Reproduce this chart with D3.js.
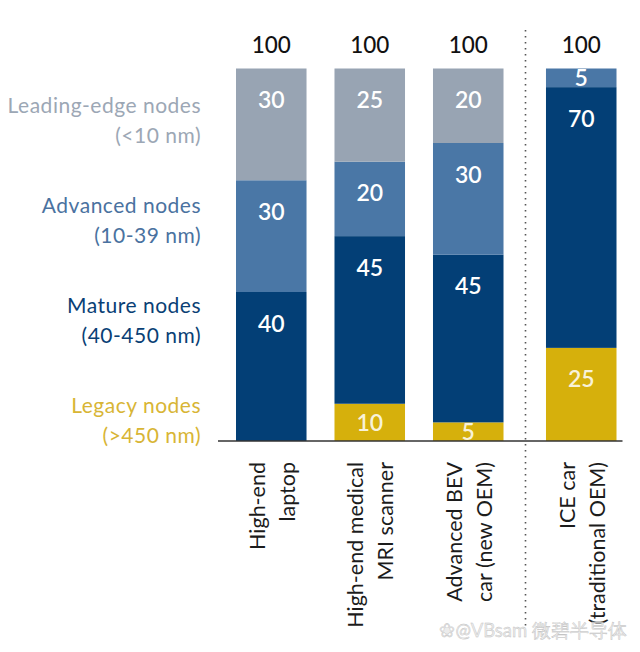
<!DOCTYPE html>
<html>
<head>
<meta charset="utf-8">
<script src="https://cdn.jsdelivr.net/npm/d3@7"></script>
<style>
	html, body { margin: 0; padding: 0; background: #fff; }
	svg { display: block; }
	text { font-family: Lato, "Open Sans", sans-serif; }
</style>
</head>
<body>
<svg id="chart" width="640" height="652"></svg>
<script>
//stacked share of chip nodes per product, stacked from the baseline up
var categories = ["laptop", "mri", "bev", "ice"];
var categoryLabels = [
	["High-end", "laptop"],
	["High-end medical", "MRI scanner"],
	["Advanced BEV", "car (new OEM)"],
	["ICE car", "(traditional OEM)"]
];
var totals = [100, 100, 100, 100];

var nodeKeys = ["legacy", "mature", "advanced", "leading"];
var legacy = [0, 10, 5, 25];
var mature = [40, 45, 45, 70];
var advanced = [30, 20, 30, 5];
var leading = [30, 25, 20, 0];

var nodeNames = {
	"legacy" : ["Legacy nodes", "(>450 nm)"],
	"mature" : ["Mature nodes", "(40-450 nm)"],
	"advanced" : ["Advanced nodes", "(10-39 nm)"],
	"leading" : ["Leading-edge nodes", "(<10 nm)"]
};
var nodeColors = {
	"legacy" : "#d6b00c",
	"mature" : "#033f76",
	"advanced" : "#4a77a6",
	"leading" : "#98a4b3"
};
var legendColors = {
	"legacy" : "#d8b535",
	"mature" : "#0a3f75",
	"advanced" : "#4a72a0",
	"leading" : "#9ca7b5"
};

var svg = d3.select("#chart");
var baseline = 441,
    top100 = 68.5;

var y = d3.scaleLinear().domain([0, 100]).range([baseline, top100]);

//the last bar sits a bit further right, behind the dotted divider
var x = d3.scaleBand().domain(categories).range([236, 602]).paddingInner(0.284).paddingOuter(0);
var barX = function(key) {
	return x(key) + (key === "ice" ? 14.5 : 0);
};

var series = { "legacy" : legacy, "mature" : mature, "advanced" : advanced, "leading" : leading };
var rows = categories.map(function(key, i) {
	var row = { key : key };
	nodeKeys.forEach(function(node) {
		row[node] = series[node][i];
	});
	return row;
});
var stacked = d3.stack().keys(nodeKeys)(rows);

//bars
var layers = svg.selectAll("g.layer").data(stacked).enter().append("g").attr("class", "layer");

layers.selectAll("rect").data(function(layer) {
	return layer.filter(function(d) { return d[1] > d[0]; });
}).enter().append("rect")
	.attr("x", function(d) { return barX(d.data.key); })
	.attr("y", function(d) { return y(d[1]); })
	.attr("width", x.bandwidth())
	.attr("height", function(d) { return y(d[0]) - y(d[1]); })
	.attr("fill", function() { return nodeColors[d3.select(this.parentNode).datum().key]; });

//value labels hang from the top of the segment, small segments get centered
layers.selectAll("text").data(function(layer) {
	return layer.filter(function(d) { return d[1] > d[0]; });
}).enter().append("text")
	.attr("x", function(d) { return barX(d.data.key) + x.bandwidth() / 2; })
	.attr("y", function(d) {
		var h = y(d[0]) - y(d[1]);
		return y(d[1]) + Math.min(31, h / 2) + 8.5;
	})
	.attr("text-anchor", "middle")
	.attr("font-size", 23)
	.attr("font-weight", 600)
	.attr("fill", "#fff")
	.attr("fill-opacity", function() { return d3.select(this.parentNode).datum().key === "legacy" ? 0.85 : 1; })
	.text(function(d) { return d[1] - d[0]; });

//totals
svg.selectAll("text.total").data(totals).enter().append("text")
	.attr("class", "total")
	.attr("x", function(d, i) { return barX(categories[i]) + x.bandwidth() / 2; })
	.attr("y", 52.5)
	.attr("text-anchor", "middle")
	.attr("font-size", 22.5)
	.attr("font-weight", 500)
	.attr("fill", "#111")
	.text(function(d) { return d; });

//baseline
svg.append("line")
	.attr("x1", 218).attr("x2", 622.5)
	.attr("y1", y(0)).attr("y2", y(0))
	.attr("stroke", "#333")
	.attr("stroke-width", 1.3);

//divider
svg.append("line")
	.attr("x1", 525.5).attr("x2", 525.5)
	.attr("y1", 30).attr("y2", 627)
	.attr("stroke", "#555")
	.attr("stroke-width", 1.6)
	.attr("stroke-dasharray", "1.6 4.4");

//legend on the left, one block per node
var legendY = d3.scaleOrdinal().domain(nodeKeys).range([413, 313, 213, 113]);

nodeKeys.forEach(function(node) {
	var label = svg.append("text")
		.attr("text-anchor", "end")
		.attr("font-size", 21)
		.attr("letter-spacing", 0.5)
		.attr("fill", legendColors[node]);
	nodeNames[node].forEach(function(line, i) {
		label.append("tspan")
			.attr("x", 201)
			.attr("y", legendY(node) + i * 30)
			.text(line);
	});
});

//rotated category labels
categories.forEach(function(key, i) {
	var cx = barX(key) + x.bandwidth() / 2;
	categoryLabels[i].forEach(function(line, j) {
		svg.append("text")
			.attr("transform", "translate(" + (cx + (j - 0.5) * 30 + 8.5) + ",462) rotate(-90)")
			.attr("text-anchor", "end")
			.attr("font-size", 21.5)
			.attr("fill", "#1c1c1c")
			.text(line);
	});
});

//watermark of the reposting account
svg.append("text")
	.attr("x", 627).attr("y", 637)
	.attr("text-anchor", "end")
	.attr("font-family", "'Noto Sans CJK SC', sans-serif")
	.attr("font-size", 18.5)
	.attr("fill", "#e6e6e6")
	.attr("fill-opacity", 0.75)
	.attr("stroke", "#bdbdbd")
	.attr("stroke-width", 0.4)
	.text("❀@VBsam 微碧半导体");
</script>
</body>
</html>
